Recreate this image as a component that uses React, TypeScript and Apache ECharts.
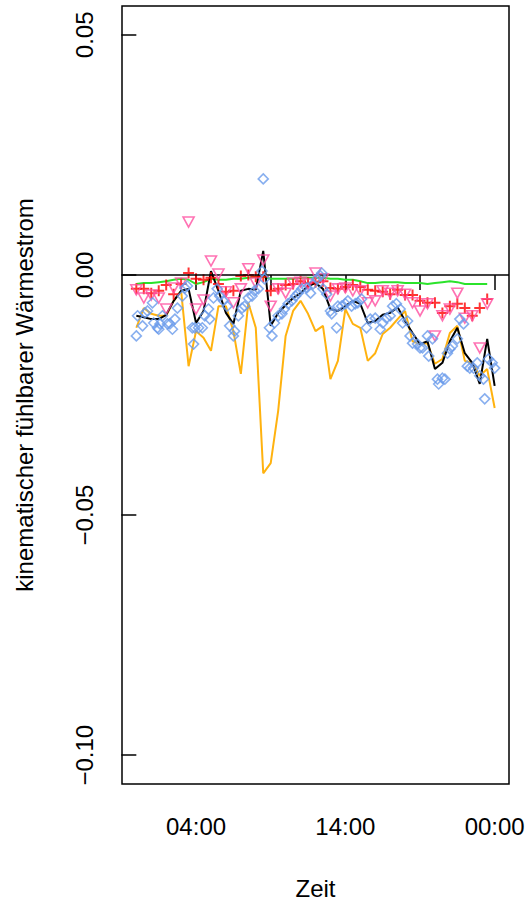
import React, { useEffect, useRef } from "react";
import * as echarts from "echarts";

// time axis (hours since 00:00) for the half-hourly series
const halfHours = Array.from({ length: 49 }, (_, i) => i * 0.5);

const blackLine = [
  -0.0085, -0.0088, -0.0092, -0.0092, -0.0083, -0.0054, -0.0033, -0.0029, -0.0100, -0.0075,
  0.0008, -0.0033, -0.0079, -0.0102, -0.0033, -0.0029, -0.0031, 0.0050, -0.0106, -0.0079,
  -0.0063, -0.0048, -0.0038, -0.0023, -0.0017, -0.0029, -0.0071, -0.0075, -0.0065, -0.0054,
  -0.0060, -0.0100, -0.0096, -0.0083, -0.0079, -0.0067, -0.0096, -0.0121, -0.0144, -0.0138,
  -0.0196, -0.0183, -0.0138, -0.0110, -0.0163, -0.0183, -0.0227, -0.0133, -0.0231,
];

const orangeLine = [
  -0.0110, -0.0069, -0.0081, -0.0085, -0.0085, -0.0054, -0.0033, -0.0190, -0.0117, -0.0131,
  -0.0158, -0.0065, -0.0065, -0.0117, -0.0206, -0.0058, -0.0110, -0.0413, -0.0392, -0.0283,
  -0.0127, -0.0075, -0.0054, -0.0081, -0.0117, -0.0106, -0.0217, -0.0179, -0.0071, -0.0102,
  -0.0110, -0.0179, -0.0163, -0.0123, -0.0110, -0.0092, -0.0075, -0.0138, -0.0144, -0.0142,
  -0.0185, -0.0175, -0.0121, -0.0106, -0.0179, -0.0183, -0.0210, -0.0196, -0.0277,
];

const greenLine = [
  -0.0019, -0.0017, -0.0017, -0.0015, -0.0013, -0.0010, -0.0008, -0.0010, -0.0019, -0.0015,
  -0.0008, -0.0010, -0.0010, -0.0008, -0.0008, -0.0006, -0.0004, -0.0004, -0.0008, -0.0008,
  -0.0008, -0.0008, -0.0006, -0.0006, -0.0006, -0.0006, -0.0008, -0.0008, -0.0010, -0.0010,
  -0.0013, -0.0017, -0.0017, -0.0015, -0.0015, -0.0015, -0.0017, -0.0017, -0.0017, -0.0019,
  -0.0017, -0.0015, -0.0013, -0.0015, -0.0019, -0.0019, -0.0019, -0.0019,
];

const redPlus = [
  -0.0029, -0.0029, -0.0038, -0.0033, -0.0021, -0.0040, -0.0019, 0.0004, -0.0008, -0.0010,
  -0.0006, -0.0019, -0.0035, -0.0033, -0.0002, 0.0000, -0.0004, -0.0004, -0.0033, -0.0029,
  -0.0021, -0.0019, -0.0013, -0.0017, -0.0015, -0.0013, -0.0027, -0.0029, -0.0025, -0.0021,
  -0.0025, -0.0031, -0.0033, -0.0035, -0.0040, -0.0031, -0.0042, -0.0042, -0.0054, -0.0058,
  -0.0058, -0.0079, -0.0065, -0.0060, -0.0069, -0.0085, -0.0069, -0.0050,
];

const pinkTriangles = [
  -0.0031, -0.0048, -0.0042, -0.0048, -0.0071, -0.0027, -0.0017, 0.0110, -0.0071, -0.0052,
  0.0029, 0.0002, -0.0035, -0.0058, -0.0029, 0.0013, -0.0017, 0.0031, -0.0065, -0.0029,
  -0.0038, -0.0017, -0.0015, -0.0019, 0.0004, -0.0008, -0.0044, -0.0029, -0.0027, -0.0033,
  -0.0033, -0.0058, -0.0054, -0.0033, -0.0038, -0.0033, -0.0040, -0.0058, -0.0075, -0.0060,
  -0.0127, -0.0085, -0.0071, -0.0038, -0.0090, -0.0085, -0.0152, -0.0060,
];

// blue diamonds: minutes since 00:00 and values
const diamondMinutes = [
  0, 5, 25, 35, 45, 65, 70, 85, 90, 95,
  105, 125, 135, 145, 155, 165, 185, 195, 205, 225,
  230, 235, 250, 265, 275, 290, 295, 310, 325, 335,
  350, 365, 375, 390, 395, 410, 425, 435, 450, 465,
  475, 490, 505, 510, 515, 535, 545, 555, 570, 585,
  595, 610, 625, 640, 650, 665, 685, 700, 710, 725,
  740, 745, 750, 765, 780, 785, 805, 810, 825, 840,
  850, 865, 880, 890, 905, 925, 940, 960, 980, 990,
  1005, 1020, 1030, 1045, 1060, 1070, 1090, 1100, 1110, 1130,
  1140, 1150, 1170, 1175, 1190, 1210, 1215, 1230, 1240, 1250,
  1260, 1270, 1290, 1300, 1315, 1330, 1340, 1355, 1370, 1380,
  1395, 1400, 1415, 1430, 1440,
];
const diamondValues = [
  -0.0127, -0.0085, -0.0106, -0.0079, -0.0075, -0.0058, -0.0100, -0.0110, -0.0113, -0.0102,
  -0.0085, -0.0102, -0.0102, -0.0113, -0.0092, -0.0069, -0.0044, -0.0027, -0.0023, -0.0110,
  -0.0144, -0.0110, -0.0110, -0.0110, -0.0085, -0.0071, -0.0092, -0.0048, -0.0029, -0.0044,
  -0.0054, -0.0065, -0.0106, -0.0127, -0.0117, -0.0085, -0.0069, -0.0065, -0.0048, -0.0044,
  -0.0033, -0.0029, 0.0008, 0.0200, -0.0008, -0.0110, -0.0127, -0.0100, -0.0085, -0.0081,
  -0.0071, -0.0060, -0.0054, -0.0044, -0.0038, -0.0029, -0.0027, -0.0038, -0.0019, -0.0008,
  -0.0002, 0.0004, -0.0029, -0.0040, -0.0075, -0.0081, -0.0110, -0.0065, -0.0065, -0.0060,
  -0.0054, -0.0065, -0.0060, -0.0058, -0.0050, -0.0110, -0.0092, -0.0090, -0.0113, -0.0100,
  -0.0090, -0.0085, -0.0065, -0.0060, -0.0071, -0.0100, -0.0096, -0.0127, -0.0142, -0.0144,
  -0.0152, -0.0152, -0.0127, -0.0169, -0.0133, -0.0217, -0.0227, -0.0215, -0.0217, -0.0163,
  -0.0154, -0.0148, -0.0133, -0.0092, -0.0102, -0.0190, -0.0194, -0.0194, -0.0183, -0.0210,
  -0.0217, -0.0258, -0.0175, -0.0183, -0.0194,
];

const xTicks = [4, 9, 14, 19, 24];
const xLabels = [4, 14, 24];
const yTicks = [-0.1, -0.05, 0, 0.05];

const FONT = "Liberation Sans, Arial, Helvetica, sans-serif";

export default function App() {
  const ref = useRef<HTMLDivElement>(null);

  useEffect(() => {
    if (!ref.current) return;
    const chart = echarts.init(ref.current, null, { renderer: "svg" });
    const hhmm = (v: number) => {
      const h = Math.round(v) % 24;
      return (h < 10 ? "0" : "") + h + ":00";
    };
    const yFmt = (v: number) => {
      if (Math.abs(v) < 1e-9) return "0.00";
      return (v < 0 ? "\u2212" : "") + Math.abs(v).toFixed(2);
    };
    chart.setOption({
      animation: false,
      backgroundColor: "#fff",
      grid: {
        left: 122,
        right: 20,
        top: 6,
        bottom: 122,
        show: true,
        borderColor: "#000",
        borderWidth: 1.5,
        backgroundColor: "transparent",
      },
      xAxis: {
        type: "value",
        min: -0.96,
        max: 24.96,
        axisLine: { show: false },
        splitLine: { show: false },
        axisTick: {
          show: true,
          length: 15,
          lineStyle: { color: "#000", width: 1.5 },
          customValues: xTicks,
        },
        axisLabel: {
          customValues: xLabels,
          formatter: hhmm,
          fontSize: 24,
          fontFamily: FONT,
          color: "#000",
          margin: 30,
        },
      },
      yAxis: {
        type: "value",
        min: -0.106,
        max: 0.056,
        axisLine: { show: false },
        splitLine: { show: false },
        axisTick: {
          show: true,
          length: 15,
          lineStyle: { color: "#000", width: 1.5 },
          customValues: yTicks,
        },
        axisLabel: {
          customValues: yTicks,
          formatter: yFmt,
          rotate: 90,
          fontSize: 24,
          fontFamily: FONT,
          color: "#000",
          margin: 26,
        },
      },
      graphic: [
        {
          type: "text",
          x: 24,
          y: 395,
          rotation: Math.PI / 2,
          style: {
            text: "kinematischer fühlbarer Wärmestrom",
            fontSize: 24,
            fontFamily: FONT,
            fill: "#000",
            align: "center",
            verticalAlign: "middle",
          },
        },
        {
          type: "text",
          x: 315.5,
          y: 888,
          style: {
            text: "Zeit",
            fontSize: 24,
            fontFamily: FONT,
            fill: "#000",
            align: "center",
            verticalAlign: "middle",
          },
        },
      ],
      series: [
        {
          type: "line",
          data: halfHours.map((h, i) => [h, orangeLine[i]]),
          symbol: "none",
          lineStyle: { color: "#FFB20F", width: 2 },
          z: 2,
        },
        {
          type: "line",
          data: halfHours.slice(0, greenLine.length).map((h, i) => [h, greenLine[i]]),
          symbol: "none",
          lineStyle: { color: "#2BE32B", width: 2 },
          z: 2,
        },
        {
          type: "line",
          data: halfHours.map((h, i) => [h, blackLine[i]]),
          symbol: "none",
          lineStyle: { color: "#000", width: 2 },
          z: 3,
          markLine: {
            silent: true,
            symbol: ["none", "none"],
            label: { show: false },
            lineStyle: { color: "#000", width: 1.5, type: "solid" },
            data: [{ yAxis: 0 }],
          },
        },
        {
          type: "scatter",
          data: halfHours.slice(0, redPlus.length).map((h, i) => [h, redPlus[i]]),
          symbol: "path://M0,5L10,5M5,0L5,10",
          symbolSize: 11,
          itemStyle: { color: "rgba(0,0,0,0)", borderColor: "#FF0000", borderWidth: 2 },
          z: 4,
        },
        {
          type: "scatter",
          data: halfHours.slice(0, pinkTriangles.length).map((h, i) => [h, pinkTriangles[i]]),
          symbol: "triangle",
          symbolRotate: 180,
          symbolSize: [11, 10],
          itemStyle: { color: "rgba(0,0,0,0)", borderColor: "#FF4FA0", borderWidth: 1.6 },
          z: 5,
        },
        {
          type: "scatter",
          data: diamondMinutes.map((m, i) => [m / 60, diamondValues[i]]),
          symbol: "diamond",
          symbolSize: [10, 10],
          itemStyle: { color: "rgba(0,0,0,0)", borderColor: "#6A9BEB", borderWidth: 1.6 },
          z: 6,
        },
      ],
    });
    return () => chart.dispose();
  }, []);

  return (
    <div
      ref={ref}
      style={{ position: "fixed", left: 0, top: 0, width: 529, height: 906, background: "#fff" }}
    />
  );
}
